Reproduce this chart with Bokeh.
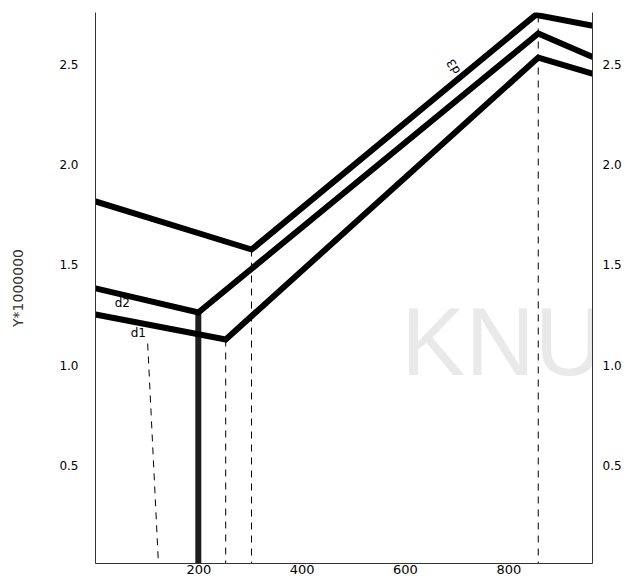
from bokeh.plotting import figure
from bokeh.models import Range1d, LinearAxis, FixedTicker, PrintfTickFormatter, Label
from bokeh.embed import file_html
from bokeh.resources import INLINE
from bokeh.core.properties import value

# ---- data ----
d3_x = [0, 302, 852, 960]
d3_y = [1.817, 1.577, 2.748, 2.695]
d2_x = [0, 199, 857, 960]
d2_y = [1.383, 1.263, 2.655, 2.54]
d1_x = [0, 252, 857, 960]
d1_y = [1.253, 1.128, 2.535, 2.456]
stem_x = [199, 199]
stem_y = [1.263, 0.0]
guide_x0 = [302, 252, 857, 101]
guide_y0 = [1.577, 1.128, 2.745, 1.108]
guide_x1 = [302, 252, 857, 122]
guide_y1 = [0.0, 0.0, 0.0, 0.0]
label_text = ["d1", "d2", "d3"]
label_x = [83, 52, 693]
label_y = [1.158, 1.308, 2.49]
label_angle = [0.0, 0.0, 2.1]
x_ticks = [200, 400, 600, 800]
y_ticks = [0.5, 1.0, 1.5, 2.0, 2.5]
y_title = "Y*1000000"

p = figure(width=635, height=583, x_range=Range1d(0, 962), y_range=Range1d(0.01, 2.76),
           output_backend="svg", toolbar_location=None,
           min_border_left=95, min_border_right=43, min_border_top=12, min_border_bottom=20)
p.outline_line_color = None
p.xgrid.visible = False
p.ygrid.visible = False
p.background_fill_color = "white"
p.border_fill_color = "white"

wm = Label(x=592, y=0.85, text="KNU", text_font="Liberation Sans",
           text_font_size="96px", text_color="#e9e9e9", level="underlay")
p.add_layout(wm)

p.segment(x0=guide_x0, y0=guide_y0, x1=guide_x1, y1=guide_y1,
          line_color="black", line_width=1, line_dash="7 6")
p.line(stem_x, stem_y, line_color="#1e1e1e", line_width=6)
for xs, ys in [(d3_x, d3_y), (d2_x, d2_y), (d1_x, d1_y)]:
    p.line(xs, ys, line_color="black", line_width=6, line_join="miter", line_cap="round")

p.text(x=label_x, y=label_y, text=label_text, angle=label_angle,
       text_font=value("DejaVu Sans"), text_font_size="12px",
       text_align="center", text_baseline="middle", text_color="black")

def style(ax, size, standoff):
    ax.axis_line_color = "#333333"
    ax.axis_line_width = 1
    ax.major_tick_line_color = None
    ax.minor_tick_line_color = None
    ax.major_tick_out = 0
    ax.major_tick_in = 0
    ax.major_label_text_font = "DejaVu Sans"
    ax.major_label_text_font_size = size
    ax.major_label_text_color = "black"
    ax.major_label_standoff = standoff

xa = p.xaxis[0]
xa.ticker = FixedTicker(ticks=x_ticks)
style(xa, "13px", 1)

ya = p.yaxis[0]
ya.ticker = FixedTicker(ticks=y_ticks)
ya.formatter = PrintfTickFormatter(format="%.1f")
style(ya, "12px", 17)
ya.axis_label = y_title
ya.axis_label_text_font = "DejaVu Sans"
ya.axis_label_text_font_size = "14px"
ya.axis_label_text_font_style = "normal"
ya.axis_label_text_color = "#333333"
ya.axis_label_standoff = 30

ra = LinearAxis(ticker=FixedTicker(ticks=y_ticks), formatter=PrintfTickFormatter(format="%.1f"))
style(ra, "12px", 10)
p.add_layout(ra, "right")

open("out.html", "w").write(file_html(p, INLINE))
